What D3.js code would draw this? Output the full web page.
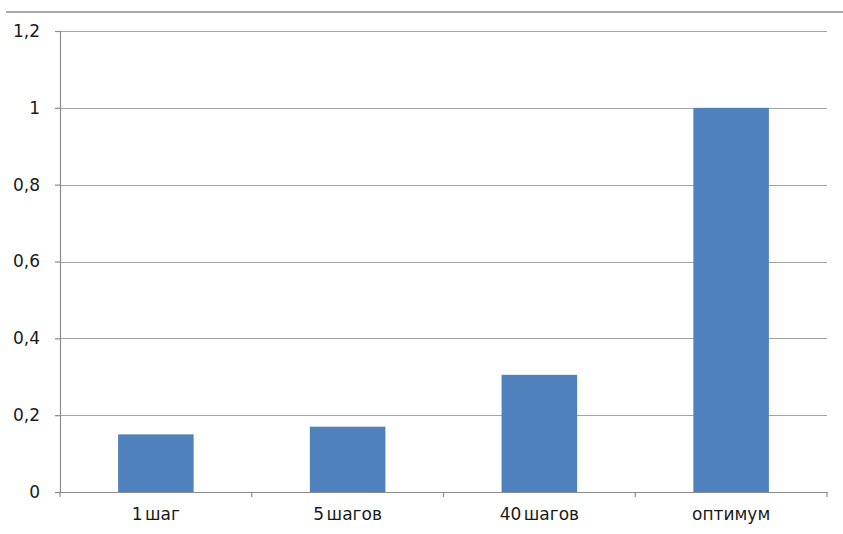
<!DOCTYPE html>
<html>
<head>
<meta charset="utf-8">
<script src="https://cdn.jsdelivr.net/npm/d3@7"></script>
<style>
  html, body { margin: 0; padding: 0; background: #fff; }
  svg { display: block; }
  .tick text { font-family: "DejaVu Sans", sans-serif; font-size: 17px; fill: #1a1a1a; }
  .x-axis .tick text { word-spacing: -3px; }
</style>
</head>
<body>
<svg id="chart" width="843" height="534"></svg>
<script>
// Chart data
const categories = ["1 шаг", "5 шагов", "40 шагов", "оптимум"];
const values = [0.15, 0.17, 0.305, 1.0];
const yTicks = [0, 0.2, 0.4, 0.6, 0.8, 1, 1.2];

const W = 843, H = 534;
const margin = { top: 31, right: 16, bottom: 42, left: 60 };
const innerW = W - margin.left - margin.right;
const innerH = H - margin.top - margin.bottom;

const svg = d3.select("#chart");

// Rule across the top of the frame
svg.append("line")
  .attr("x1", 6).attr("x2", W)
  .attr("y1", 12).attr("y2", 12)
  .attr("stroke", "#8c8c8c").attr("stroke-width", 1.5);

const g = svg.append("g").attr("transform", `translate(${margin.left},${margin.top})`);

const x = d3.scaleBand().domain(categories).range([0, innerW]).paddingInner(0.606).paddingOuter(0.303);
const y = d3.scaleLinear().domain([0, 1.2]).range([innerH, 0]);

const fmt = v => String(+v.toFixed(1)).replace(".", ",");

// Horizontal gridlines
g.append("g")
  .selectAll("line")
  .data(yTicks.filter(t => t > 0))
  .join("line")
  .attr("x1", 0).attr("x2", innerW)
  .attr("y1", d => Math.round(y(d)) + 0.5).attr("y2", d => Math.round(y(d)) + 0.5)
  .attr("stroke", "#a3a3a3").attr("stroke-width", 1.2);

// Bars
g.append("g")
  .selectAll("rect")
  .data(values)
  .join("rect")
  .attr("x", (d, i) => x(categories[i]))
  .attr("width", x.bandwidth())
  .attr("y", d => y(d))
  .attr("height", d => innerH - y(d))
  .attr("fill", "#4f81bd");

// Y axis
const yAxis = g.append("g")
  .call(d3.axisLeft(y).tickValues(yTicks).tickFormat(fmt).tickSize(5).tickPadding(15));
yAxis.selectAll("path, line").attr("stroke", "#8c8c8c").attr("stroke-width", 1.2);

// X axis with ticks on the category boundaries
const xAxis = g.append("g").attr("class", "x-axis").attr("transform", `translate(0,${innerH})`)
  .call(d3.axisBottom(x).tickSizeInner(0).tickSizeOuter(0).tickPadding(16));
xAxis.select(".domain").attr("stroke", "#8c8c8c").attr("stroke-width", 1.2);

const step = x.step();
const bounds = d3.range(categories.length + 1).map(i => x(categories[0]) - x.paddingOuter() * step + i * step);
xAxis.selectAll("line.bound")
  .data(bounds)
  .join("line")
  .attr("class", "bound")
  .attr("x1", d => d).attr("x2", d => d)
  .attr("y1", 0).attr("y2", 5)
  .attr("stroke", "#8c8c8c").attr("stroke-width", 1.2);
</script>
</body>
</html>
